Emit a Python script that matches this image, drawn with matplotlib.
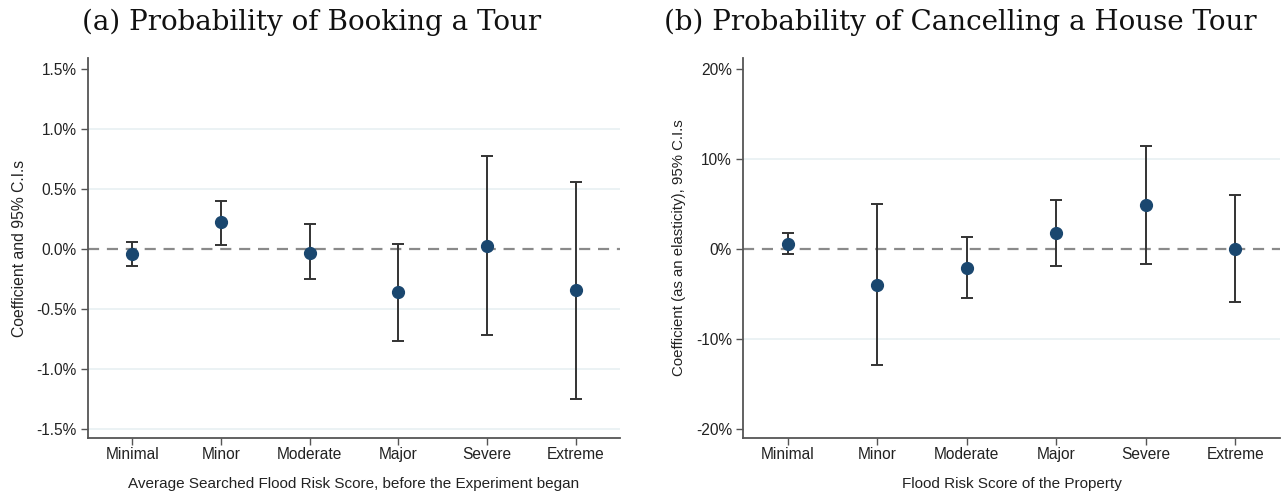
import matplotlib
matplotlib.use("Agg")
import matplotlib.pyplot as plt
from matplotlib.ticker import FuncFormatter

categories = ["Minimal", "Minor", "Moderate", "Major", "Severe", "Extreme"]

# Panel (a): probability of booking a tour (percent)
booking_coef = [-0.04, 0.22, -0.03, -0.36, 0.02, -0.34]
booking_lo = [-0.14, 0.03, -0.25, -0.77, -0.72, -1.25]
booking_hi = [0.06, 0.40, 0.21, 0.04, 0.77, 0.56]

# Panel (b): probability of cancelling a house tour (percent, elasticity)
cancel_coef = [0.55, -4.0, -2.1, 1.8, 4.85, 0.0]
cancel_lo = [-0.6, -12.9, -5.5, -1.9, -1.7, -5.9]
cancel_hi = [1.8, 4.96, 1.3, 5.44, 11.4, 5.96]

booking_ticks = [-1.5, -1.0, -0.5, 0.0, 0.5, 1.0, 1.5]
booking_grid = [-1.5, -1.0, -0.5, 0.5, 1.0]
cancel_ticks = [-20, -10, 0, 10, 20]
cancel_grid = [-10, 10]

plt.rcParams["font.family"] = ["Liberation Sans", "DejaVu Sans"]

NAVY = "#1a476f"
SPINE = "#555555"

fig = plt.figure(figsize=(12.84, 4.96), dpi=100)
ax_a = fig.add_axes([88 / 1284, 58 / 496, 532 / 1284, 380 / 496])
ax_b = fig.add_axes([743 / 1284, 58 / 496, 537 / 1284, 380 / 496])


def draw_panel(ax, coef, lo, hi, ticks, grid, ylim, fmt, xlabel, ylabel, ylabel_size,
               title, title_x):
    x = list(range(1, len(categories) + 1))
    for g in grid:
        ax.axhline(g, color="#e8f0f2", lw=1.2, zorder=0)
    ax.axhline(0, color="#8a8a8a", lw=1.6, ls=(0, (5, 3.5)), zorder=1)
    yerr = [[c - l for c, l in zip(coef, lo)], [h - c for c, h in zip(coef, hi)]]
    ax.errorbar(x, coef, yerr=yerr, fmt="none", ecolor="#333333", elinewidth=1.4,
                capsize=4.5, capthick=1.4, zorder=2)
    ax.plot(x, coef, "o", color=NAVY, ms=8.5, zorder=3)
    ax.set_xlim(0.5, 6.5)
    ax.set_ylim(*ylim)
    ax.set_xticks(x)
    ax.set_xticklabels(categories, fontsize=11.2, color="#222222")
    ax.set_yticks(ticks)
    ax.yaxis.set_major_formatter(FuncFormatter(fmt))
    ax.tick_params(axis="y", labelsize=11.2, labelcolor="#222222", length=5,
                   color=SPINE, width=1.0, pad=3)
    ax.tick_params(axis="x", length=5, color=SPINE, width=1.0, pad=1.5)
    for s in ("top", "right"):
        ax.spines[s].set_visible(False)
    for s in ("left", "bottom"):
        ax.spines[s].set_color(SPINE)
        ax.spines[s].set_linewidth(1.3)
    ax.set_xlabel(xlabel, fontsize=11, color="#222222", labelpad=11)
    ax.set_ylabel(ylabel, fontsize=ylabel_size, color="#222222", labelpad=7)
    fig.text(title_x, 1 - 22 / 496, title, fontsize=20, ha="center", va="center",
             family=["DejaVu Serif"], color="#111111")


draw_panel(ax_a, booking_coef, booking_lo, booking_hi, booking_ticks, booking_grid,
           (-1.575, 1.59), lambda v, p: f"{v:.1f}%",
           "Average Searched Flood Risk Score, before the Experiment began",
           "Coefficient and 95% C.I.s", 11.3,
           "(a) Probability of Booking a Tour", 312 / 1284)
draw_panel(ax_b, cancel_coef, cancel_lo, cancel_hi, cancel_ticks, cancel_grid,
           (-21.0, 21.2), lambda v, p: f"{v:.0f}%",
           "Flood Risk Score of the Property",
           "Coefficient (as an elasticity), 95% C.I.s", 10.8,
           "(b) Probability of Cancelling a House Tour", 960 / 1284)

fig.savefig("out.png", dpi=100, facecolor="white")
